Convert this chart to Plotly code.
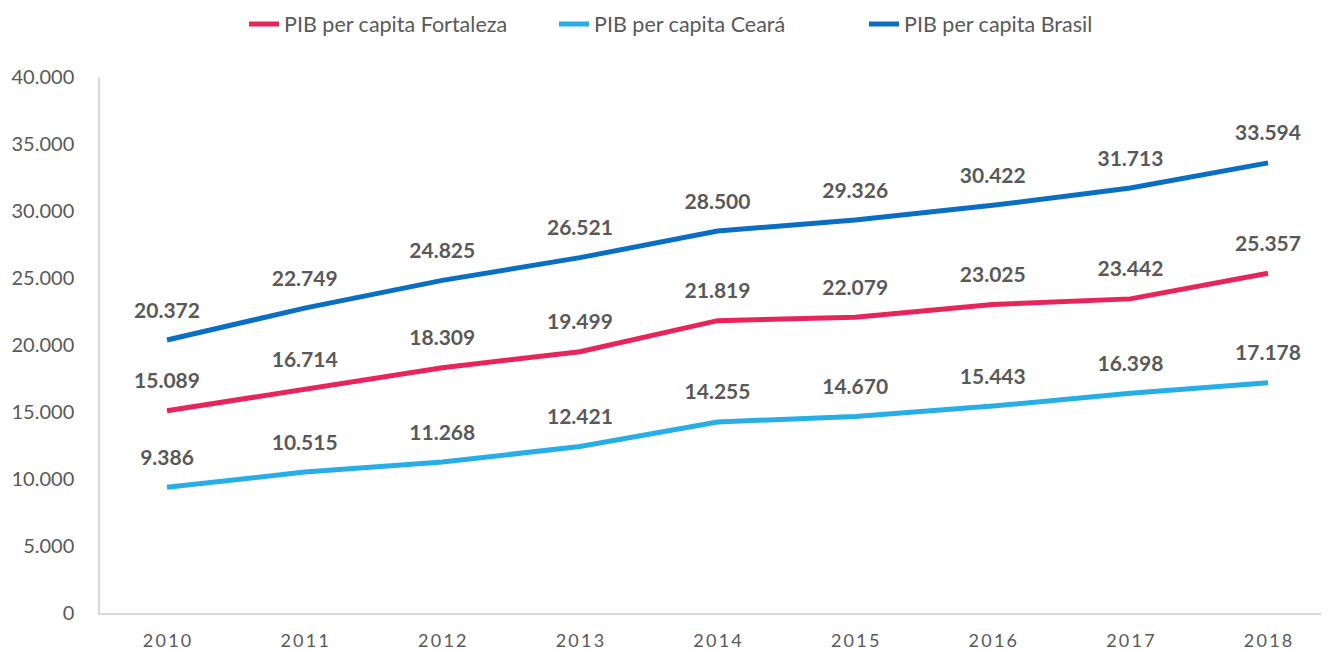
import plotly.graph_objects as go

years = ["2010", "2011", "2012", "2013", "2014", "2015", "2016", "2017", "2018"]
fortaleza = [15089, 16714, 18309, 19499, 21819, 22079, 23025, 23442, 25357]
ceara = [9386, 10515, 11268, 12421, 14255, 14670, 15443, 16398, 17178]
brasil = [20372, 22749, 24825, 26521, 28500, 29326, 30422, 31713, 33594]

series = [
    ("PIB per capita Fortaleza", fortaleza, "#E8245A"),
    ("PIB per capita Ceará", ceara, "#27AEE6"),
    ("PIB per capita Brasil", brasil, "#0A6FC2"),
]

FONT = "Lato"
GREY = "#595959"

fig = go.Figure()
for name, vals, color in series:
    fig.add_trace(go.Scatter(
        x=years, y=vals, name=name, mode="lines",
        line=dict(color=color, width=5),
        hoverinfo="skip",
    ))
for name, vals, color in series:
    fig.add_trace(go.Scatter(
        x=years, y=vals, mode="markers+text",
        marker=dict(size=26, opacity=0, color=color),
        text=["<b>" + f"{v:,}".replace(",", ".") + "</b>" for v in vals],
        textposition="top center",
        textfont=dict(family=FONT, size=21, color=GREY),
        showlegend=False, hoverinfo="skip", cliponaxis=False,
    ))

ticktext = ["\u2009".join(list(y)) for y in years]

W, H = 1321, 643
fig.update_layout(
    width=W, height=H,
    margin=dict(l=92, r=0, t=69, b=24),
    paper_bgcolor="white", plot_bgcolor="white",
    separators=",.",
    font=dict(family=FONT, color=GREY),
    showlegend=True,
    legend=dict(
        orientation="h", xref="container", yref="container",
        x=701 / W, xanchor="center", y=1 - 16 / H, yanchor="middle",
        font=dict(family=FONT, size=21.5, color=GREY),
        entrywidth=265, entrywidthmode="pixels",
    ),
    xaxis=dict(
        type="category", range=[-0.487, 8.443],
        tickvals=years, ticktext=ticktext,
        showgrid=False, zeroline=False,
        showline=True, linecolor="#D9D9D9", linewidth=1.5,
        ticks="", ticklabelstandoff=11,
        tickfont=dict(family=FONT, size=18, color=GREY),
    ),
    yaxis=dict(
        range=[0, 40000], dtick=5000, tickformat=",",
        showgrid=False, zeroline=False,
        showline=True, linecolor="#D9D9D9", linewidth=1.5,
        ticks="", ticklabelstandoff=20,
        tickfont=dict(family=FONT, size=20, color=GREY),
    ),
)

fig.write_html("out.html")
